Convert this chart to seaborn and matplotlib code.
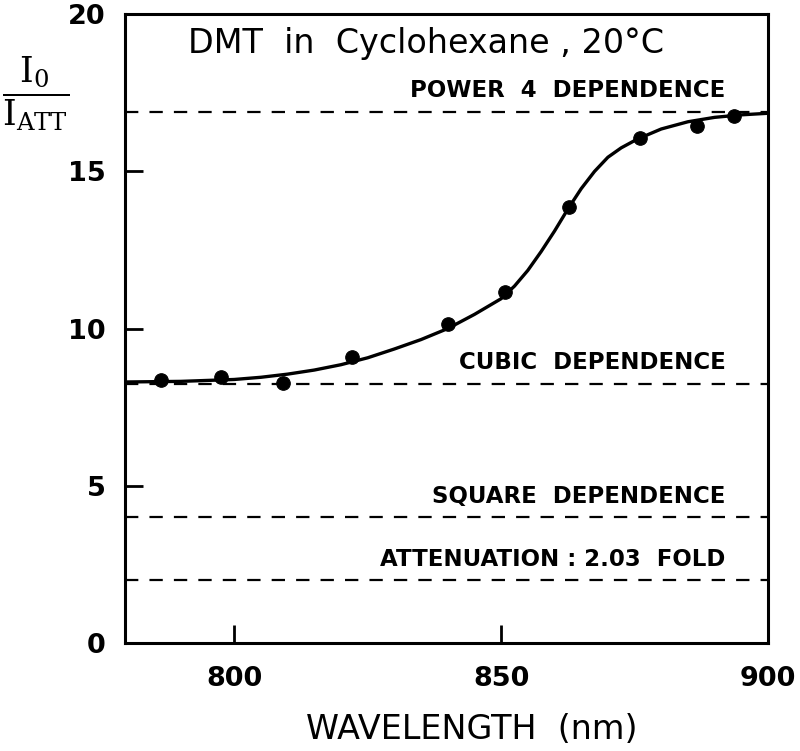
import numpy as np
import pandas as pd
import matplotlib
matplotlib.use('Agg')
import matplotlib.pyplot as plt
import seaborn as sns

# measured points (nm, I0/I_ATT)
wl_points = [786.3, 797.5, 809.2, 822.1, 840.0, 850.8, 862.7, 876.1, 886.7, 893.6]
ratio_points = [8.36, 8.46, 8.27, 9.10, 10.14, 11.16, 13.86, 16.06, 16.46, 16.75]

# fitted curve
wl_curve = [779.5, 790, 800, 805, 810, 815, 820, 825, 830, 835, 840, 845, 850,
            852.5, 855, 857.5, 860, 862.5, 865, 867.5, 870, 872.5, 875, 877.5,
            880, 885, 890, 895, 900]
ratio_curve = [8.30, 8.32, 8.38, 8.45, 8.55, 8.68, 8.85, 9.07, 9.35, 9.65, 10.0,
               10.45, 10.95, 11.35, 11.85, 12.45, 13.1, 13.8, 14.45, 15.0, 15.45,
               15.75, 15.98, 16.17, 16.35, 16.58, 16.72, 16.8, 16.85]

# reference levels
ref_levels = [16.9, 8.25, 4.0, 2.0]
ref_labels = ['POWER  4  DEPENDENCE', 'CUBIC  DEPENDENCE',
              'SQUARE  DEPENDENCE', 'ATTENUATION : 2.03  FOLD']

x_ticks = [800, 850, 900]
y_ticks = [0, 5, 10, 15, 20]

sns.set_style('ticks')
plt.rcParams['font.family'] = ['DejaVu Sans']
plt.rcParams['mathtext.fontset'] = 'dejavuserif'
plt.rcParams['text.color'] = 'black'
plt.rcParams['xtick.color'] = 'black'
plt.rcParams['ytick.color'] = 'black'

fig = plt.figure(figsize=(8, 7.51), dpi=100)
ax = fig.add_axes([0.156, 0.144, 0.804, 0.837])

pts = pd.DataFrame({'wl': wl_points, 'ratio': ratio_points})
curve = pd.DataFrame({'wl': wl_curve, 'ratio': ratio_curve})

for lev, lab in zip(ref_levels, ref_labels):
    ax.axhline(lev, color='black', lw=1.6, ls=(0, (6, 5)), zorder=1)
    ax.text(892, lev + 0.3, lab, ha='right', va='bottom', fontsize=16.5,
            fontweight='bold', color='black')

sns.lineplot(data=curve, x='wl', y='ratio', ax=ax, color='black', lw=2.4,
             zorder=3)
sns.scatterplot(data=pts, x='wl', y='ratio', ax=ax, color='black', s=95,
                edgecolor='black', zorder=4)

ax.text(836, 19.07, 'DMT  in  Cyclohexane , 20°C', ha='center',
        va='center', fontsize=24, color='black')

ax.set_xlim(779.5, 900)
ax.set_ylim(0, 20)
ax.set_xticks(x_ticks)
ax.set_yticks(y_ticks)
ax.tick_params(direction='in', length=13, width=2, labelsize=19.5, pad=14)
ax.tick_params(axis='x', pad=17)
for lbl in ax.get_xticklabels() + ax.get_yticklabels():
    lbl.set_fontweight('bold')
for sp in ax.spines.values():
    sp.set_linewidth(2.2)
    sp.set_color('black')

ax.set_ylabel('')
ax.set_xlabel('WAVELENGTH  (nm)', fontsize=24, color='black')
ax.xaxis.set_label_coords(0.54, -0.112)

fig.text(0.045, 0.875, r'$\dfrac{\mathrm{I_0}}{\mathrm{I_{ATT}}}$',
         ha='center', va='center', fontsize=25)

fig.savefig('out.png', dpi=100)
